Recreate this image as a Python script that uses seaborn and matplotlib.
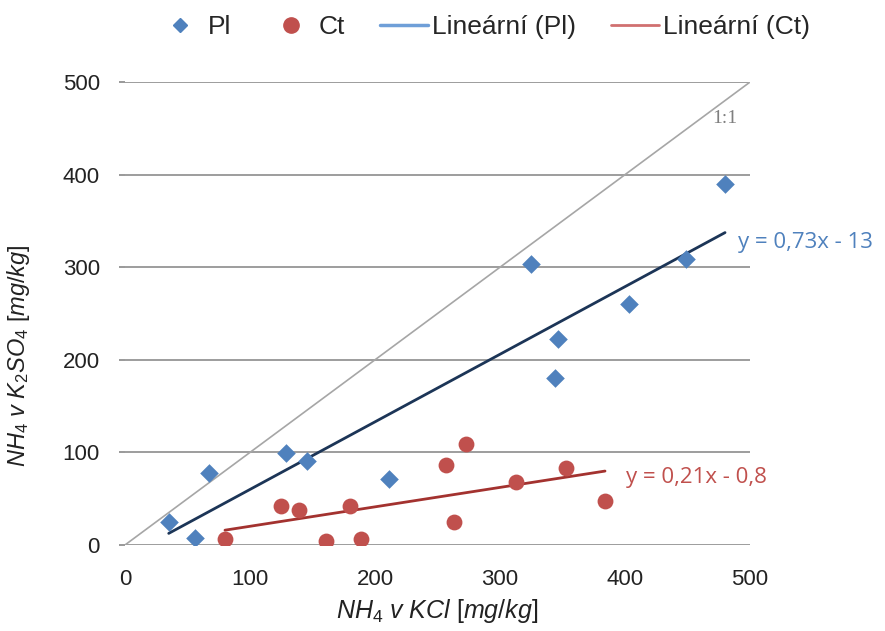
import numpy as np
import pandas as pd
import matplotlib
matplotlib.use("Agg")
import matplotlib.pyplot as plt
import seaborn as sns
from matplotlib.lines import Line2D

# -----------------------------
# Data
# -----------------------------
pl_x = [35, 56, 67, 129, 146, 211, 325, 346, 344, 403, 449, 480]
pl_y = [25, 8, 78, 99, 91, 71, 303, 223, 180, 260, 309, 390]

ct_x = [80, 125, 139, 161, 180, 189, 257, 263, 273, 313, 353, 384]
ct_y = [7, 42, 38, 4, 42, 7, 86, 25, 109, 68, 83, 48]

pl_fit = [0.73, -13]    # slope, intercept
ct_fit = [0.21, -0.8]

pl_label = "y = 0,73x - 13"
ct_label = "y = 0,21x - 0,8"
legend_labels = ["Pl", "Ct", "Lineární (Pl)", "Lineární (Ct)"]
ticks = [0, 100, 200, 300, 400, 500]

# colours
blue = "#4F81BD"
red = "#C0504D"
navy = "#1C3557"
dark_red = "#A3322F"

sns.set_theme(style="white")
plt.rcParams["font.family"] = ["Liberation Sans", "DejaVu Sans"]
plt.rcParams["mathtext.fontset"] = "custom"
plt.rcParams["mathtext.rm"] = "Liberation Sans"
plt.rcParams["mathtext.it"] = "Liberation Sans:italic"

fig = plt.figure(figsize=(8.85, 6.31), dpi=100)
ax = fig.add_axes([0.1412, 0.1363, 0.7063, 0.7337])

# 1:1 line
ax.plot([0, 500], [0, 500], color="#A6A6A6", lw=1.2, zorder=2)

# trend lines
pl_line = pd.DataFrame({"x": [min(pl_x), max(pl_x)]})
pl_line["y"] = pl_fit[0] * pl_line["x"] + pl_fit[1]
ct_line = pd.DataFrame({"x": [min(ct_x), max(ct_x)]})
ct_line["y"] = ct_fit[0] * ct_line["x"] + ct_fit[1]
sns.lineplot(data=pl_line, x="x", y="y", color=navy, lw=2.0, ax=ax, zorder=3)
sns.lineplot(data=ct_line, x="x", y="y", color=dark_red, lw=2.0, ax=ax, zorder=3)

# points
sns.scatterplot(x=pl_x, y=pl_y, marker="D", s=90, color=blue, edgecolor=blue,
                linewidth=0, ax=ax, zorder=4)
sns.scatterplot(x=ct_x, y=ct_y, marker="o", s=130, color=red, edgecolor=red,
                linewidth=0, ax=ax, zorder=4)

ax.set_xlim(0, 500)
ax.set_ylim(0, 500)
ax.set_xticks(ticks)
ax.set_yticks(ticks)
ax.yaxis.grid(True, color="#8C8C8C", lw=1.2)
ax.xaxis.grid(False)
ax.set_axisbelow(True)
for s in ax.spines.values():
    s.set_visible(False)
ax.tick_params(axis="y", length=4, color="#8C8C8C", pad=14, labelsize=16, labelcolor="#222222", left=True)
ax.tick_params(axis="x", length=0, pad=17, labelsize=16, labelcolor="#222222")

ax.set_xlabel(r"$\mathit{NH_4\ v\ KCl\ [mg/kg]}$", fontsize=18, color="#222222", labelpad=5)
ax.set_ylabel(r"$\mathit{NH_4\ v\ K_2SO_4\ [mg/kg]}$", fontsize=17, color="#222222")
ax.yaxis.set_label_coords(-0.148, 0.41)

# equation labels
ax.text(490, 327, pl_label, color=blue, fontsize=16, family="Open Sans", va="center", ha="left")
ax.text(401, 73, ct_label, color=red, fontsize=16, family="Open Sans", va="center", ha="left")
ax.text(470, 461, "1:1", color="#7F7F7F", fontsize=14, family="Liberation Serif", va="center", ha="left")

# legend
handles = [
    Line2D([], [], marker="D", ls="", color=blue, markersize=7),
    Line2D([], [], marker="o", ls="", color=red, markersize=11),
    Line2D([], [], color="#6F9FD8", lw=2.5),
    Line2D([], [], color="#D07070", lw=2.0),
]
fig.legend(handles, legend_labels, loc="center", bbox_to_anchor=(0.546, 0.957), ncol=4,
           frameon=False, fontsize=19, handlelength=1.8, handletextpad=0.15, columnspacing=1.35)

fig.savefig("out.png", dpi=100)
